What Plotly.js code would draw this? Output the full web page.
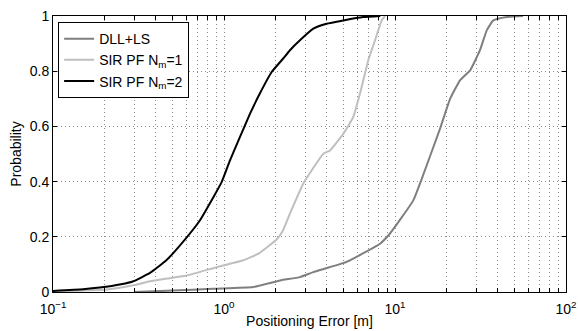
<!DOCTYPE html>
<html><head><meta charset="utf-8">
<script src="https://cdn.plot.ly/plotly-3.0.1.min.js"></script>
<style>html,body{margin:0;padding:0;background:#fff}#c{width:578px;height:331px}</style>
</head><body><div id="c"></div>
<script>
// DLL+LS
const dllX = [0.3, 0.5, 0.865, 1.48, 2.13, 2.78, 3.33, 5.21, 8.17, 9.35, 12.8, 14, 18.3, 21, 24, 27.5, 31.4, 34.4, 37.6, 45, 56];
const dllY = [0.0, 0.005, 0.012, 0.018, 0.042, 0.054, 0.072, 0.109, 0.175, 0.212, 0.332, 0.393, 0.59, 0.7, 0.767, 0.803, 0.876, 0.948, 0.984, 0.996, 1.0];
// SIR PF Nm=1
const pf1X = [0.1, 0.206, 0.3, 0.369, 0.605, 0.906, 1.3, 1.6, 2.03, 2.2, 2.43, 2.91, 3.81, 4.17, 4.99, 5.7, 6.24, 6.98, 7.64, 8.35, 8.75];
const pf1Y = [0.002, 0.009, 0.025, 0.039, 0.06, 0.09, 0.115, 0.14, 0.19, 0.22, 0.284, 0.393, 0.501, 0.513, 0.574, 0.634, 0.719, 0.84, 0.912, 0.984, 1.0];
// SIR PF Nm=2
const pf2X = [0.1, 0.15, 0.188, 0.25, 0.295, 0.369, 0.46, 0.553, 0.724, 0.97, 1.084, 1.24, 1.42, 1.62, 1.9, 2.22, 2.43, 2.78, 3.33, 3.98, 4.99, 6.5, 8.2];
const pf2Y = [0.004, 0.01, 0.016, 0.028, 0.039, 0.069, 0.115, 0.169, 0.26, 0.399, 0.477, 0.562, 0.646, 0.719, 0.797, 0.846, 0.876, 0.912, 0.954, 0.972, 0.984, 0.996, 1.0];

const seriesNames = ['DLL+LS', 'SIR PF N<sub>m</sub>=1', 'SIR PF N<sub>m</sub>=2'];
const decades = [0.1, 1, 10, 100];
const decadeLabels = ['10<sup>\u22121</sup>', '10<sup>0</sup>', '10<sup>1</sup>', '10<sup>2</sup>'];
const yTicks = [0, 0.2, 0.4, 0.6, 0.8, 1];
const yLabels = ['0', '0.2', '0.4', '0.6', '0.8', '1'];

const xTickVals = [], xTickText = [];
for (let d = 0; d < decades.length; d++) {
  const base = decades[d];
  const maxM = d === decades.length - 1 ? 1 : 9;
  for (let m = 1; m <= maxM; m++) {
    xTickVals.push(base * m);
    xTickText.push(m === 1 ? decadeLabels[d] : '');
  }
}

const data = [
  {x: dllX, y: dllY, name: seriesNames[0], mode: 'lines', line: {color: '#7f7f7f', width: 2, shape: 'spline', smoothing: 0.4}},
  {x: pf1X, y: pf1Y, name: seriesNames[1], mode: 'lines', line: {color: '#bfbfbf', width: 2, shape: 'spline', smoothing: 0.4}},
  {x: pf2X, y: pf2Y, name: seriesNames[2], mode: 'lines', line: {color: '#000000', width: 2, shape: 'spline', smoothing: 0.4}}
];

const layout = {
  width: 578, height: 331,
  margin: {l: 53, r: 12, t: 16, b: 39},
  paper_bgcolor: '#fff', plot_bgcolor: '#fff',
  font: {family: 'Liberation Sans, Arial, sans-serif', size: 14, color: '#000'},
  showlegend: true,
  legend: {x: 0.01, y: 0.978, xanchor: 'left', yanchor: 'top', bgcolor: '#fff', bordercolor: '#000', borderwidth: 1,
    font: {size: 14}, tracegroupgap: 0, itemwidth: 30},
  xaxis: {
    type: 'log', range: [-1, 2], tickmode: 'array', tickvals: xTickVals, ticktext: xTickText,
    ticks: 'inside', ticklen: 4, tickcolor: '#000', showline: true, linecolor: '#000', linewidth: 1, mirror: 'ticks',
    showgrid: true, gridcolor: '#8c8c8c', griddash: '1px,3px', gridwidth: 1, zeroline: false,
    ticklabelstandoff: 4,
    title: {text: 'Positioning Error [m]', font: {size: 14}, standoff: 0},
    tickfont: {size: 14}
  },
  yaxis: {
    range: [0, 1], tickmode: 'array', tickvals: yTicks, ticktext: yLabels,
    ticks: 'inside', ticklen: 4, tickcolor: '#000', showline: true, linecolor: '#000', linewidth: 1, mirror: 'ticks',
    showgrid: true, gridcolor: '#8c8c8c', griddash: '1px,3px', gridwidth: 1, zeroline: false,
    title: {text: 'Probability', font: {size: 14}, standoff: 4},
    tickfont: {size: 14}
  }
};
Plotly.newPlot('c', data, layout, {displayModeBar: false, staticPlot: true});
</script></body></html>
